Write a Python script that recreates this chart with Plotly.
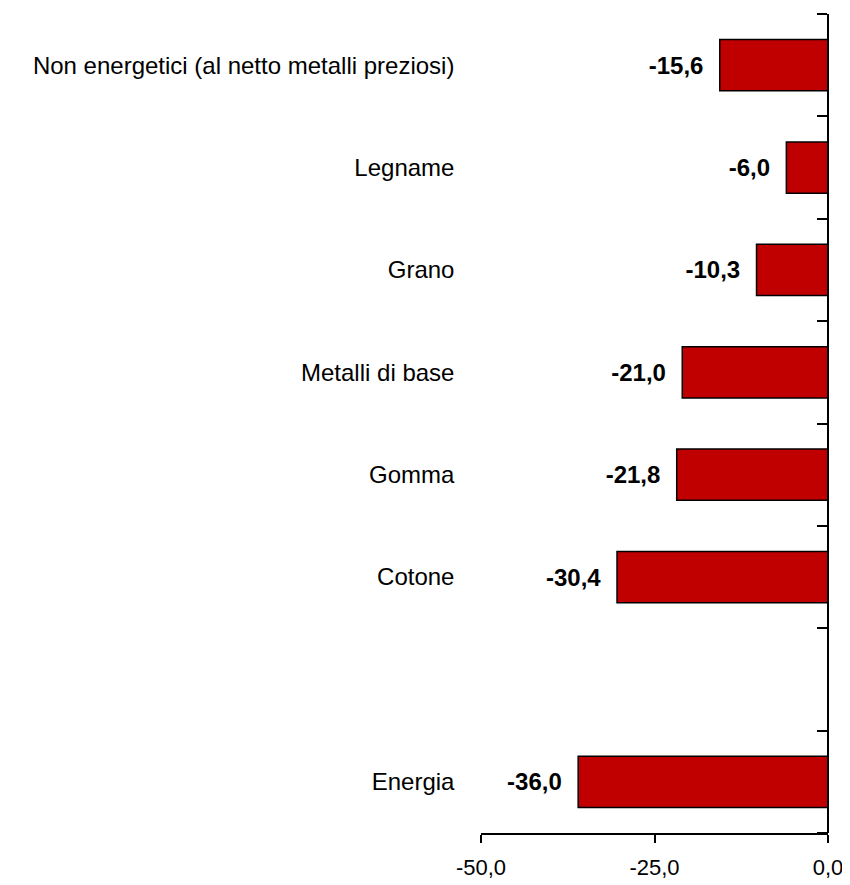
import plotly.graph_objects as go

categories = ["Energia", " ", "Cotone", "Gomma", "Metalli di base", "Grano", "Legname",
              "Non energetici (al netto metalli preziosi)"]
bar_categories = ["Energia", "Cotone", "Gomma", "Metalli di base", "Grano", "Legname",
                  "Non energetici (al netto metalli preziosi)"]
values = [-36.0, -30.4, -21.8, -21.0, -10.3, -6.0, -15.6]
x_ticks = [-50, -25, 0]
x_tick_labels = ["-50,0", "-25,0", "0,0"]

labels = [f"{v:.1f}".replace(".", ",") for v in values]
FONT = "Liberation Sans Narrow, Arial Narrow, Liberation Sans, Arial, sans-serif"

fig = go.Figure(go.Bar(
    x=values, y=bar_categories, orientation="h",
    marker=dict(color="#C00000", line=dict(color="black", width=1.5)),
    width=0.5,
    text=labels, texttemplate="%{text}\u00a0\u00a0", textposition="outside", cliponaxis=False,
    textfont=dict(family=FONT, size=24, color="black", weight="bold"),
))

# page body has an 8px default margin; size figure so the visible window matches
fig.update_layout(
    width=842, height=877,
    margin=dict(l=473, r=22, t=6, b=52),
    plot_bgcolor="white", paper_bgcolor="white",
    showlegend=False,
    font=dict(family=FONT, size=22, color="black"),
)
fig.update_xaxes(
    range=[-50, 0], tickvals=x_ticks, ticktext=x_tick_labels,
    showgrid=False, zeroline=False, automargin=False,
    showline=True, linecolor="black", linewidth=1.5,
    ticks="outside", ticklen=8, tickwidth=1.5, tickcolor="black",
    ticklabelstandoff=6,
    tickfont=dict(family=FONT, size=22, color="black"),
)
fig.update_yaxes(
    type="category", categoryorder="array", categoryarray=categories,
    range=[-0.5, 7.5], anchor="free", position=1.0, side="left",
    showgrid=False, zeroline=False, automargin=False,
    showline=True, linecolor="black", linewidth=1.5,
    ticks="outside", tickson="boundaries", ticklen=10, tickwidth=1.5, tickcolor="black",
    ticklabelstandoff=368,
    tickfont=dict(family=FONT, size=24, color="black"),
)

fig.write_html("out.html")
